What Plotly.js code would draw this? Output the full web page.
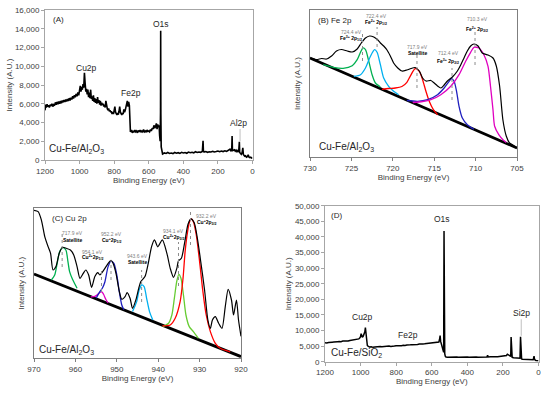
<!DOCTYPE html>
<html><head><meta charset="utf-8">
<script src="https://cdn.plot.ly/plotly-3.0.1.min.js"></script>
<style>html,body{margin:0;padding:0;background:#fff}#chart{width:550px;height:395px}</style>
</head><body><div id="chart"></div>
<script>
// ---------- Panel A : survey Cu-Fe/Al2O3 ----------
const aBE = [1200,1196,1192,1188,1184,1180,1175,1170,1165,1160,1155,1150,1145,1140,1135,1130,1125,1120,1115,1110,1105,1100,1095,1090,1085,1080,1075,1070,1065,1060,1055,1050,1045,1040,1035,1030,1025,1020,1015,1010,1005,1000,996,992,988,984,980,976,972,968,964,960,956,952,948,944,940,936,932,928,924,920,916,912,908,904,900,896,892,888,884,880,876,872,868,864,860,856,852,848,844,840,836,832,828,824,820,816,812,808,804,800,796,792,788,784,780,776,772,768,764,760,756,752,748,744,740,736,732,728,724,720,716,712,710,706,700,695,690,685,680,675,670,665,660,655,650,645,640,635,630,625,620,615,610,605,600,595,590,585,580,575,570,565,560,556,552,548,544,540,537,534,532,531,530,528,525,520,510,500,490,480,470,460,450,440,430,420,410,400,390,380,370,360,350,340,330,320,310,300,290,286,284,280,270,260,250,240,230,220,210,200,190,180,170,160,150,140,130,125,120,118,116,110,105,100,95,90,85,80,76,74,70,65,60,56,53,50,45,40,35,30,25,20,15,10,5,0];
const aInt = [5300,5900,5600,5950,5700,5850,5600,5900,5750,6000,5700,5900,5800,6150,5900,6200,5950,6250,6000,6300,6050,6350,6150,6400,6200,6450,6250,6500,6300,6600,6350,6650,6450,6800,6550,6900,6700,7050,6800,7200,6900,7400,7900,7300,7800,7500,8100,7700,9300,8200,7300,7600,7000,7500,6700,7200,6600,7500,6500,6800,6300,6900,6200,6600,6100,6500,6000,6700,6100,6400,5900,6300,5800,6100,5900,6000,5700,5900,5600,6300,5700,5500,5300,5500,5200,5300,5100,5200,4900,5100,4900,5200,5700,5100,5000,4800,5000,4850,5200,5700,5100,4950,4800,5000,4900,5400,5100,5300,5600,5900,6300,5700,6200,5800,3400,3000,3200,2900,3100,2950,3200,3000,3100,2900,3150,3000,3200,2950,3100,3000,3250,3000,3100,2950,3200,3050,3100,3000,3250,3100,3400,3300,3700,3400,3600,3900,3300,3800,3500,3700,2600,2000,5000,13800,5000,1400,800,650,750,700,800,700,750,680,800,720,780,700,820,750,800,720,850,780,820,760,880,800,850,820,900,2050,1000,850,900,820,880,850,920,860,900,950,880,960,900,980,920,1000,1150,1000,1100,2550,1000,1050,1100,950,1050,900,1000,850,1950,800,700,600,800,1300,600,500,400,450,300,350,550,300,250,300,200,250];
const aXTicks = [1200,1000,800,600,400,200,0];
const aYTicks = [0,2000,4000,6000,8000,10000,12000,14000,16000];

// ---------- Panel B : Fe 2p ----------
const feBaseBE = [730,705];
const feBaseI = [99,9];
const feEnvBE = [730,729.2,728.6,728,727.4,726.8,726.2,725.5,724.9,724.3,723.8,723.3,722.8,722.3,721.8,721.5,721.1,720.7,720.3,719.9,719.4,718.9,718.3,717.8,717.3,716.8,716.4,716.0,715.4,715.0,714.6,714.2,713.8,713.4,712.8,712.2,711.8,711.4,711.0,710.6,710.2,709.7,709.2,708.5,707.9,707.5,707.1,706.7,706.3,705.9,705.5,705];
const feEnvI = [99,97.5,98.5,98,101,106,107.5,106,105,108,114,119,121,120,117,114,111,107,101,94,89,86,87,88.5,89.5,86,79,76,76.5,74,71,69,72,76,80,86,92,99,106,111,113,111,104,102,99,91,71,37,21,14,12,9];
const feGreenBE = [728.4,727.2,726.0,724.9,724.3,723.9,723.6,723.3,722.9,722.5,722.1,721.5];
const feGreenI = [92.3,89.7,88.7,91.3,97.3,104.7,109,107.3,95.7,82.3,74,70];
const feCyanBE = [724.7,723.9,723.3,722.7,722.2,721.9,721.5,721.1,720.5,719.9,719.3];
const feCyanI = [80.7,82.3,89,100.7,107.3,104.7,92.3,79,70.7,65.7,62.3];
const feRedBE = [721.3,720.5,719.7,718.9,718.3,717.9,717.3,716.8,716.4,716.0,715.6,715.1,714.6];
const feRedI = [67.7,68.5,69,70.5,74.7,80.7,88.3,85.7,77.3,65.7,55.7,47.3,42.3];
const feBlueBE = [718.3,717.0,715.8,714.6,713.8,713.2,712.9,712.6,712.3,712.0,711.6,711.0,710.2];
const feBlueI = [56.5,55.7,57.3,62.3,69,75.7,78.3,75.7,65.7,50.7,39,32.3,27.7];
const feMagBE = [717.6,716.4,715.4,714.2,713.0,712.0,711.2,710.6,710.2,709.6,709.0,708.5,708.2,707.9,707.7,707.2,706.7,706.3];
const feMagI = [54.5,55.5,57.3,62.3,70.7,82.3,95.7,104.7,109.7,109,102.3,90.7,70.7,47.3,30.7,22.3,17.3,14.5];
const feXTicks = [730,725,720,715,710,705];
const fePeakEV = ['724.4 eV','722.4 eV','717.9 eV','712.4 eV','710.3 eV'];
const fePeakName = ['Fe<sup>3+</sup> 2p<sub>1/2</sub>','Fe<sup>2+</sup> 2p<sub>1/2</sub>','Satellite','Fe<sup>3+</sup> 2p<sub>3/2</sub>','Fe<sup>2+</sup> 2p<sub>3/2</sub>'];
const fePeakBE = [723.66,721.9,717.08,712.85,710.07];

// ---------- Panel C : Cu 2p ----------
const cuBaseBE = [970,920];
const cuBaseI = [84.3,1.7];
const cuEnvBE = [970,969.0,968.2,967.4,966.6,966.0,965.4,964.7,963.9,963.1,962.2,961.2,960.4,959.6,958.9,958.1,957.5,956.8,956.1,955.3,954.6,954.1,953.4,952.6,951.9,951.4,950.9,950.2,949.4,948.8,948.0,947.5,946.8,946.2,945.4,944.7,944.2,943.2,942.4,941.6,940.9,940.1,939.0,937.9,937.1,936.3,935.5,935.1,934.4,933.6,932.8,932.1,931.3,930.5,929.7,928.8,928.0,927.4,926.9,926.2,925.4,924.6,923.8,923.1,922.3,921.8,921.1,920.6,920];
const cuEnvI = [148,146.7,138,121.7,111.7,105,88.3,91.7,105,111,110,108.3,103.3,91.7,80,85,88.3,83.3,71,81.7,85.7,83.3,86.7,91.7,96,98,95,85,67,59,61.7,65.7,60,50,58.3,70,76.7,81.7,95,111.7,118.5,111.5,118.5,105,90,81,90,97.5,100,116,134,139.5,135.5,119,96,68.3,38.3,30,38.3,41.7,35,30,51.7,69,58.3,43.3,58.3,38.3,22];
const cuGreenBE = [965.8,965.0,964.4,963.8,963.0,962.3,961.8,961.4,960.7,960.1,959.6];
const cuGreenI = [78.3,83.3,95,106.7,110.7,108.3,96.7,86.7,79,74,70];
const cuMagBE = [956.3,955.3,954.6,954.0,953.6,953.2,952.6,952.1];
const cuMagI = [61.5,62,64,66,66.5,64,58.5,55.5];
const cuBlueBE = [955.0,954.1,953.5,952.9,952.1,951.4,950.7,950.0,949.4,948.8,948.3];
const cuBlueI = [60,66.7,70,76,91.7,97.2,95,83.3,66.7,53.3,48.6];
const cuCyanBE = [946.2,945.2,944.6,944.0,943.4,942.8,942.1,941.3];
const cuCyanI = [46.7,56.7,68.3,73.3,71.7,60,46.7,38.3];
const cuLimeBE = [938.9,937.5,936.7,936.1,935.5,935.0,934.5,933.9,933.3,932.5,931.5,930.3];
const cuLimeI = [31.7,35,43.3,60,77.3,84,80,63.3,43.3,31.7,26.7,20];
const cuRedBE = [939.0,937.1,935.9,934.7,934.0,933.5,932.9,932.4,932.0,931.5,930.8,930.0,929.2,928.4,927.4,926.2,925.0,922.6];
const cuRedI = [32.5,33.3,40,56.7,80,106.7,126.7,136.7,139.3,136.7,123.3,96.7,66.7,43.3,26.7,15,10,6.5];
const cuXTicks = [970,960,950,940,930,920];
const cuPeakEV = ['717.9 eV','954.1 eV','952.2 eV','943.6 eV','934.1 eV','932.2 eV'];
const cuPeakName = ['Satellite','Cu<sup>2+</sup>2p<sub>1/2</sub>','Cu<sup>+</sup>2p<sub>1/2</sub>','Satellite','Cu<sup>2+</sup>2p<sub>3/2</sub>','Cu<sup>+</sup>2p<sub>3/2</sub>'];
const cuPeakBE = [963.2,953.7,951.4,944.0,935.1,932.2];

// ---------- Panel D : survey Cu-Fe/SiO2 ----------
const dBE = [1200,1190,1180,1170,1160,1150,1140,1130,1120,1110,1100,1090,1080,1070,1060,1050,1040,1030,1020,1010,1005,1000,997,994,990,985,980,976,973,970,966,962,958,954,950,940,930,920,910,900,890,880,870,860,850,840,830,820,810,800,790,780,770,760,750,740,730,720,710,700,690,680,670,660,650,640,630,620,610,600,590,580,570,560,556,553,550,545,540,536,533,531,529,527,524,520,510,500,490,480,470,460,450,440,430,420,410,400,390,380,370,360,350,340,330,320,310,300,290,286,283,270,260,250,240,230,220,210,200,190,180,175,170,165,160,156,154,152,148,140,130,120,110,104,101,99,95,90,80,70,60,50,40,30,25,22,15,10,5,0];
const dInt = [6100,6000,6150,6100,6250,6300,6250,6400,6450,6400,6600,6550,6700,6650,6800,6900,6850,7000,7150,7300,7600,8000,9000,8100,7800,8200,8800,9600,10900,8500,6200,5200,5000,4900,4700,4800,4600,4700,4800,4700,4850,4800,4900,4850,4950,5000,4900,5050,5000,5100,5050,5200,5150,5300,5200,5350,5300,5400,5450,5400,5550,5500,5650,5600,5700,5750,5800,5850,5900,5950,6000,6100,6150,6300,7200,8400,6500,5500,4800,3500,3000,41900,5000,2600,1800,1500,1450,1500,1400,1500,1450,1500,1400,1450,1500,1400,1450,1500,1450,1500,1400,1450,1500,1450,1500,1450,1500,1550,1500,2100,1500,1550,1500,1550,1600,1550,1650,1700,1750,1850,2000,2400,2200,2000,1800,1700,7900,2000,1400,1300,1250,1300,1200,1100,8000,1200,900,800,750,700,650,600,650,600,1800,700,400,350,300,300];
const dXTicks = [1200,1000,800,600,400,200,0];
const dYTicks = [0,5000,10000,15000,20000,25000,30000,35000,40000,45000,50000];

// ---------- layout helpers ----------
const FONT = 'Liberation Sans, Arial, sans-serif';
const W = 550, H = 395;
const fx = p => p / W;
const fy = p => 1 - p / H;

function ax(extra) {
  return Object.assign({
    showgrid: false, zeroline: false, showline: true, mirror: true,
    linecolor: '#a6a6a6', linewidth: 1, ticks: 'outside', ticklen: 3, tickcolor: '#a6a6a6',
    tickfont: {family: FONT, size: 8, color: '#404040'}, tickmode: 'array', fixedrange: true
  }, extra);
}
const titleFont = {family: FONT, size: 8, color: '#404040'};

function line(x, y, xa, ya, color, width, shape) {
  return {x: x, y: y, xaxis: xa, yaxis: ya, mode: 'lines', type: 'scatter', hoverinfo: 'skip',
    line: {color: color, width: width, shape: shape || 'linear', smoothing: 0.7}};
}

const traces = [
  line(aBE, aInt, 'x', 'y', '#000', 1.6),
  line(feBaseBE, feBaseI, 'x2', 'y2', '#000', 2.8),
  line(feGreenBE, feGreenI, 'x2', 'y2', '#00b050', 1.3, 'spline'),
  line(feCyanBE, feCyanI, 'x2', 'y2', '#00b0f0', 1.3, 'spline'),
  line(feRedBE, feRedI, 'x2', 'y2', '#ff0000', 1.3, 'spline'),
  line(feBlueBE, feBlueI, 'x2', 'y2', '#1f1fbf', 1.3, 'spline'),
  line(feMagBE, feMagI, 'x2', 'y2', '#e000c0', 1.3, 'spline'),
  line(feEnvBE, feEnvI, 'x2', 'y2', '#000', 1.2, 'spline'),
  line(cuBaseBE, cuBaseI, 'x3', 'y3', '#000', 2.8),
  line(cuGreenBE, cuGreenI, 'x3', 'y3', '#00b050', 1.3, 'spline'),
  line(cuMagBE, cuMagI, 'x3', 'y3', '#e000c0', 1.3, 'spline'),
  line(cuBlueBE, cuBlueI, 'x3', 'y3', '#1f1fbf', 1.3, 'spline'),
  line(cuCyanBE, cuCyanI, 'x3', 'y3', '#00b0f0', 1.3, 'spline'),
  line(cuLimeBE, cuLimeI, 'x3', 'y3', '#66cc33', 1.3, 'spline'),
  line(cuRedBE, cuRedI, 'x3', 'y3', '#ff0000', 1.3, 'spline'),
  line(cuEnvBE, cuEnvI, 'x3', 'y3', '#000', 1.2, 'spline'),
  line(dBE, dInt, 'x4', 'y4', '#000', 1.5)
];

// dotted guide lines (positions of annotation guides)
const feDotTop = [123, 130, 102, 89, 125];
const feDotBot = [96, 110, 69, 57, 92];
const cuDotTop = [124.3, 90.3, 98.3, 88.3, 116.3, 146.3];
const cuDotBot = [91.3, 66.3, 78.3, 56.3, 72.3, 113.3];
const shapes = [];
fePeakBE.forEach((b, i) => shapes.push({type: 'line', xref: 'x2', yref: 'y2', x0: b, x1: b, y0: feDotBot[i], y1: feDotTop[i], line: {color: '#8c8c8c', width: 1, dash: 'dot'}}));
cuPeakBE.forEach((b, i) => shapes.push({type: 'line', xref: 'x3', yref: 'y3', x0: b, x1: b, y0: cuDotBot[i], y1: cuDotTop[i], line: {color: '#8c8c8c', width: 1, dash: 'dot'}}));
shapes.push({type: 'line', xref: 'x', yref: 'y', x0: 72, x1: 72, y0: 2000, y1: 3300, line: {color: '#bfbfbf', width: 1}});
shapes.push({type: 'line', xref: 'x4', yref: 'y4', x0: 97, x1: 97, y0: 8300, y1: 13600, line: {color: '#bfbfbf', width: 1}});

function ann(xref, yref, x, y, text, size, extra) {
  return Object.assign({xref: xref, yref: yref, x: x, y: y, text: text, showarrow: false,
    font: {family: FONT, size: size, color: '#262626'}, xanchor: 'center', yanchor: 'middle', borderpad: 0}, extra || {});
}
const annotations = [
  ann('x', 'y', 1123, 14940, '(A)', 8),
  ann('x', 'y', 529, 14500, 'O1s', 8.5),
  ann('x', 'y', 962, 9850, 'Cu2p', 8.5),
  ann('x', 'y', 703, 7120, 'Fe2p', 8.5),
  ann('x', 'y', 79, 3920, 'Al2p', 8.5),
  ann('x', 'y', 1016, 1170, 'Cu-Fe/Al<sub>2</sub>O<sub>3</sub>', 10),
  ann('x2', 'y2', 729.2, 137, '(B) Fe 2p', 8, {xanchor: 'left'}),
  ann('x2', 'y2', 729.0, 10.3, 'Cu-Fe/Al<sub>2</sub>O<sub>3</sub>', 10, {xanchor: 'left'}),
  ann('x3', 'y3', 966.0, 140.3, '(C) Cu 2p', 8, {xanchor: 'left'}),
  ann('x3', 'y3', 969.0, 8.3, 'Cu-Fe/Al<sub>2</sub>O<sub>3</sub>', 10, {xanchor: 'left'}),
  ann('x4', 'y4', 1138, 47000, '(D)', 8),
  ann('x4', 'y4', 542, 45700, 'O1s', 8.5),
  ann('x4', 'y4', 989, 14170, 'Cu2p', 8.5),
  ann('x4', 'y4', 732, 8400, 'Fe2p', 8.5),
  ann('x4', 'y4', 96, 15670, 'Si2p', 8.5),
  ann('x4', 'y4', 1172, 2630, 'Cu-Fe/SiO<sub>2</sub>', 10, {xanchor: 'left'})
];
const feLabPos = [[725.0, 125, 119], [722.0, 141, 135], [717.0, 110, 104.5], [713.3, 104, 96], [709.8, 138, 128]];
fePeakEV.forEach((t, i) => {
  annotations.push(ann('x2', 'y2', feLabPos[i][0], feLabPos[i][1], t, 5, {font: {family: FONT, size: 5, color: '#7f7f7f'}}));
  annotations.push(ann('x2', 'y2', feLabPos[i][0], feLabPos[i][2], '<b>' + fePeakName[i] + '</b>', 5, {font: {family: FONT, size: 5, color: '#000'}}));
});
const cuLabPos = [[960.6, 125.3, 118.3], [955.9, 106, 100.6], [951.4, 124, 118.3], [945.0, 102.3, 96.6], [936.3, 127.3, 120.6], [928.4, 142.8, 135.8]];
cuPeakEV.forEach((t, i) => {
  annotations.push(ann('x3', 'y3', cuLabPos[i][0], cuLabPos[i][1], t, 5, {font: {family: FONT, size: 5, color: '#7f7f7f'}}));
  annotations.push(ann('x3', 'y3', cuLabPos[i][0], cuLabPos[i][2], '<b>' + cuPeakName[i] + '</b>', 5, {font: {family: FONT, size: 5, color: '#000'}}));
});

const layout = {
  width: W, height: H, margin: {l: 0, r: 0, t: 0, b: 0},
  paper_bgcolor: '#fff', plot_bgcolor: '#fff', showlegend: false,
  font: {family: FONT, size: 8, color: '#404040'},
  xaxis: ax({domain: [fx(45), fx(252.5)], anchor: 'y', range: [1200, 0], tickvals: aXTicks, tickformat: 'd',
    title: {text: 'Binding Energy (eV)', font: titleFont, standoff: 2}}),
  yaxis: ax({domain: [fy(160), fy(10)], anchor: 'x', range: [0, 16000], tickvals: aYTicks, tickformat: ',d',
    title: {text: 'Intensity (A.U.)', font: titleFont, standoff: 1}}),
  xaxis2: ax({domain: [fx(310), fx(517)], anchor: 'y2', range: [730, 705], tickvals: feXTicks, tickformat: 'd',
    linecolor: '#7f7f7f', tickcolor: '#7f7f7f',
    title: {text: 'Binding Energy (eV)', font: titleFont, standoff: 2}}),
  yaxis2: ax({domain: [fy(157), fy(10)], anchor: 'x2', range: [0, 147], showticklabels: false, ticks: '',
    linecolor: '#7f7f7f', title: {text: 'Intensity (A.U.)', font: titleFont, standoff: 7}}),
  xaxis3: ax({domain: [fx(34), fx(241)], anchor: 'y3', range: [970, 920], tickvals: cuXTicks, tickformat: 'd',
    linecolor: '#7f7f7f', tickcolor: '#7f7f7f',
    title: {text: 'Binding Energy (eV)', font: titleFont, standoff: 2}}),
  yaxis3: ax({domain: [fy(358.3), fy(208.3)], anchor: 'x3', range: [0, 150], showticklabels: false, ticks: '',
    linecolor: '#7f7f7f', title: {text: 'Intensity (A.U.)', font: titleFont, standoff: 7}}),
  xaxis4: ax({domain: [fx(325), fx(538.5)], anchor: 'y4', range: [1200, 0], tickvals: dXTicks, tickformat: 'd',
    title: {text: 'Binding Energy (eV)', font: titleFont, standoff: 2}}),
  yaxis4: ax({domain: [fy(361.7), fy(205.7)], anchor: 'x4', range: [0, 50000], tickvals: dYTicks, tickformat: ',d',
    title: {text: 'Intensity (A.U.)', font: titleFont, standoff: 2}}),
  shapes: shapes,
  annotations: annotations
};

Plotly.newPlot('chart', traces, layout, {displayModeBar: false});
</script></body></html>
